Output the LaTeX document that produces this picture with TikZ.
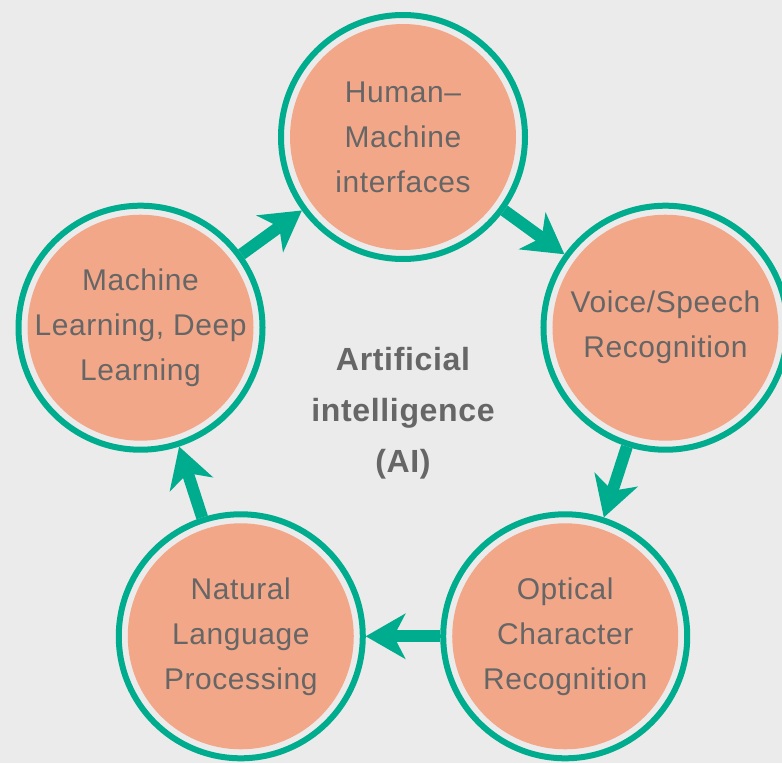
\documentclass[tikz,border=0pt]{standalone}
\usepackage{fontspec}
\setmainfont[LetterSpace=2]{Liberation Sans}
\usetikzlibrary{arrows.meta}
\definecolor{bg}{HTML}{EBEBEB}
\definecolor{ring}{HTML}{00AC8E}
\definecolor{peach}{HTML}{F2A788}
\definecolor{ink}{HTML}{666666}
\tikzset{
	topic/.style={circle,draw=ring,line width=0.15cm,fill=bg,minimum size=6.1cm,inner sep=0pt,align=center,text=ink,font=\fontsize{21.3}{32}\selectfont,
		path picture={\fill[peach] (path picture bounding box.center) circle (2.825cm);}},
	core/.style={align=center,text=ink,font=\bfseries\fontsize{22.8}{36.3}\selectfont},
	flow/.style={draw=ring,line width=0.3cm,-{Stealth[length=1cm,width=1.15cm,inset=0.3cm,line width=0pt]}}
}

\begin{document}
\begin{tikzpicture}
	\useasboundingbox[fill=bg] (-10.075,-8.75) rectangle (9.475,10.325);
	\clip (-10.075,-8.75) rectangle (9.475,10.325);
	\node[core] (ai) at (0,0) {Artificial\\intelligence\\(AI)};
	\node[topic] (hmi) at (90:6.9) {Human–\\Machine\\interfaces};
	\node[topic] (voice) at (18:6.9) {Voice/Speech\\Recognition};
	\node[topic] (ocr) at (-54:6.9) {Optical\\Character\\Recognition};
	\node[topic] (nlp) at (-126:6.9) {Natural\\Language\\Processing};
	\node[topic] (ml) at (162:6.9) {Machine\\Learning, Deep\\Learning};
	\draw[flow] (hmi) -- (voice);
	\draw[flow] (voice) -- (ocr);
	\draw[flow] (ocr) -- (nlp);
	\draw[flow] (nlp) -- (ml);
	\draw[flow] (ml) -- (hmi);
\end{tikzpicture}
\end{document}
